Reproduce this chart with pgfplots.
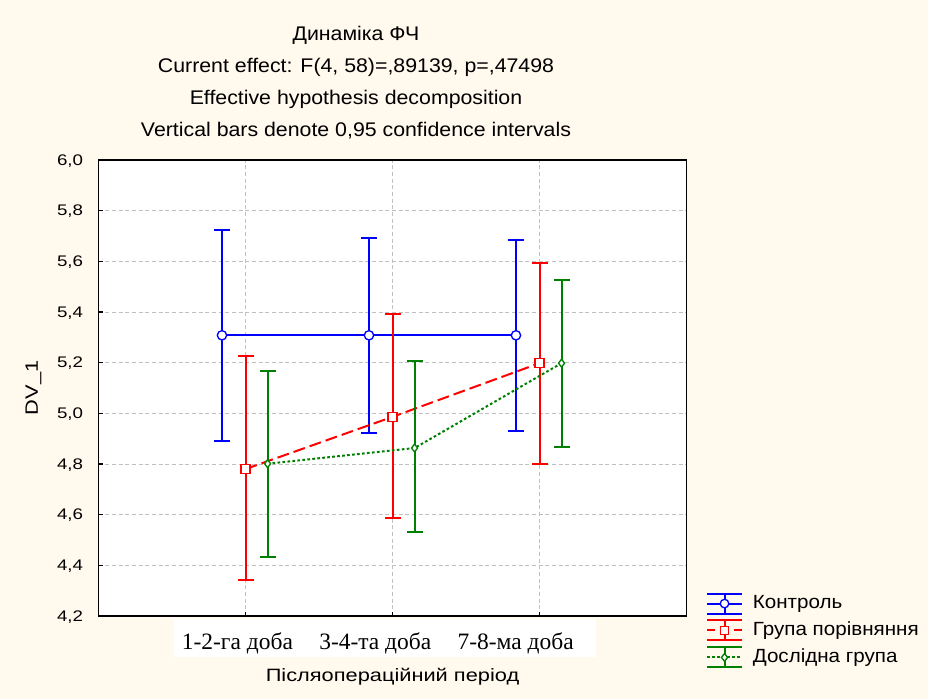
\documentclass[border=0pt]{standalone}
\usepackage{pgfplots}
\pgfplotsset{compat=1.18}
\usepackage{pgfplotstable}
\usepackage{fontspec}
\setmainfont{Liberation Sans}
\newfontfamily\sansA{Liberation Sans}[FakeStretch=1.08]
\newfontfamily\sansB{Liberation Sans}[FakeStretch=1.22]
\newfontfamily\serifT{Liberation Serif}
\definecolor{bg}{HTML}{FFF9EE}
\definecolor{cblue}{HTML}{0000FF}
\definecolor{cred}{HTML}{FF0000}
\definecolor{cgreen}{HTML}{008000}
\definecolor{gridc}{HTML}{C0C0C0}

\pgfplotstableread{
x y ep em
-0.16 5.308 0.416 0.416
0.84 5.308 0.384 0.384
1.84 5.308 0.376 0.376
}\control
\pgfplotstableread{
x y ep em
0.0 4.780 0.446 0.436
1.0 4.986 0.408 0.400
2.0 5.198 0.397 0.397
}\comparison
\pgfplotstableread{
x y ep em
0.15 4.801 0.365 0.368
1.15 4.863 0.343 0.330
2.15 5.198 0.328 0.330
}\experimental

\begin{document}
\begin{tikzpicture}[x=1pt,y=1pt]
\fill[bg] (0,0) rectangle (696,524.25);
\useasboundingbox (0,0) rectangle (696,524.25);
\fill[white] (130.5,31.5) rectangle (447,60);
\node[font=\sansA\fontsize{14.8}{16}\selectfont] at (267,498) {Динаміка ФЧ};
\node[font=\sansA\fontsize{14.8}{16}\selectfont] at (267,474) {Current effect: F(4, 58)=,89139, p=,47498};
\node[font=\sansA\fontsize{14.8}{16}\selectfont] at (267,450) {Effective hypothesis decomposition};
\node[font=\sansA\fontsize{14.8}{16}\selectfont] at (267,426) {Vertical bars denote 0,95 confidence intervals};
\begin{axis}[
  at={(73.875pt,62.25pt)}, anchor=south west,
  width=441pt, height=342pt, scale only axis,
  xmin=-1, xmax=3, ymin=4.2, ymax=6.0,
  axis background/.style={fill=white},
  axis line style={line width=1.3pt, black},
  xtick={0,1,2}, xticklabels={},
  extra x ticks={-0.055,0.883,1.838},
  extra x tick labels={1-2-га доба,3-4-та доба,7-8-ма доба},
  extra x tick style={grid=none, major tick length=0pt,
     xticklabel style={font=\serifT\fontsize{17.6}{19}\selectfont, anchor=base, inner sep=0pt, yshift=-25.5pt}},
  ytick={4.2,4.4,4.6,4.8,5.0,5.2,5.4,5.6,5.8,6.0},
  /pgf/number format/assume math mode=true,
  y tick label style={/pgf/number format/fixed, /pgf/number format/fixed zerofill,
     /pgf/number format/precision=1, /pgf/number format/use comma,
     font=\sansB\fontsize{11.5}{12}\selectfont, anchor=base east, inner sep=0pt, xshift=-11.4pt, yshift=-4pt},
  grid=major,
  major grid style={gridc, dash pattern=on 3pt off 2pt, line width=0.6pt},
  tick pos=left, tick align=inside, major tick length=3pt,
  tick style={black, line width=1pt},
  xlabel={Післяопераційний період},
  every axis x label/.style={at={(rel axis cs:0.5,0)}, anchor=base, yshift=-49.5pt, font=\sansB\fontsize{13.4}{15}\selectfont},
  ylabel={DV\_1},
  every axis y label/.style={at={(rel axis cs:-0.1029,0.5)}, anchor=base, rotate=90, font=\sansB\fontsize{13.4}{15}\selectfont},
  legend style={at={(rel axis cs:1.0335,-0.0318)}, anchor=west, draw=none, fill=none,
     inner sep=0pt, outer sep=0pt, row sep=3.7pt, column sep=7.5pt,
     font=\sansA\fontsize{14.3}{16}\selectfont,
     nodes={inner sep=0pt, outer sep=0pt, text height=10pt, text depth=3pt}},
  legend cell align=left,
]
\addplot[cblue, line width=1.5pt, mark=*, mark size=3.5pt, mark options={solid, fill=white, draw=cblue, line width=1pt},
  legend image code/.code={
    \draw[cblue, solid, line width=1.5pt] (0pt,7.5pt)--(26pt,7.5pt) (0pt,-7.5pt)--(26pt,-7.5pt) (13pt,-7.5pt)--(13pt,7.5pt) (0pt,0pt)--(26pt,0pt);
    \draw[cblue, solid, line width=1pt, fill=white] (13pt,0pt) circle (3.2pt);},
  error bars/.cd, y dir=both, y explicit, error mark=|,
  error bar style={line width=1.5pt, solid, cblue},
  error mark options={line width=1.5pt, mark size=6pt, cblue}]
  table[x=x, y=y, y error plus=ep, y error minus=em]{\control};
\addlegendentry{Контроль}
\addplot[cred, line width=1.5pt, dash pattern=on 9pt off 3.75pt, mark=square*, mark size=3.3pt, mark options={solid, fill=white, draw=cred, line width=1pt},
  legend image code/.code={
    \draw[cred, solid, line width=1.5pt] (0pt,7.5pt)--(26pt,7.5pt) (0pt,-7.5pt)--(26pt,-7.5pt) (13pt,-7.5pt)--(13pt,7.5pt);
    \draw[cred, line width=1.5pt, dash pattern=on 6pt off 4pt] (0pt,0pt)--(26pt,0pt);
    \draw[cred, solid, line width=1pt, fill=white] (9.8pt,-3.2pt) rectangle (16.2pt,3.2pt);},
  error bars/.cd, y dir=both, y explicit, error mark=|,
  error bar style={line width=1.5pt, solid, cred},
  error mark options={line width=1.5pt, mark size=6pt, cred}]
  table[x=x, y=y, y error plus=ep, y error minus=em]{\comparison};
\addlegendentry{Група порівняння}
\addplot[cgreen, line width=1.5pt, dash pattern=on 2pt off 1.75pt, mark=diamond*, mark size=3pt, mark options={solid, fill=white, draw=cgreen, line width=1pt},
  legend image code/.code={
    \draw[cgreen, solid, line width=1.5pt] (0pt,7.5pt)--(26pt,7.5pt) (0pt,-7.5pt)--(26pt,-7.5pt) (13pt,-7.5pt)--(13pt,7.5pt);
    \draw[cgreen, line width=1.5pt, dash pattern=on 2pt off 1.75pt] (0pt,0pt)--(26pt,0pt);
    \draw[cgreen, solid, line width=1pt, fill=white] (13pt,2.9pt)--(15.3pt,0pt)--(13pt,-2.9pt)--(10.7pt,0pt)--cycle;},
  error bars/.cd, y dir=both, y explicit, error mark=|,
  error bar style={line width=1.5pt, solid, cgreen},
  error mark options={line width=1.5pt, mark size=6pt, cgreen}]
  table[x=x, y=y, y error plus=ep, y error minus=em]{\experimental};
\addlegendentry{Дослідна група}
\end{axis}
\end{tikzpicture}
\end{document}
